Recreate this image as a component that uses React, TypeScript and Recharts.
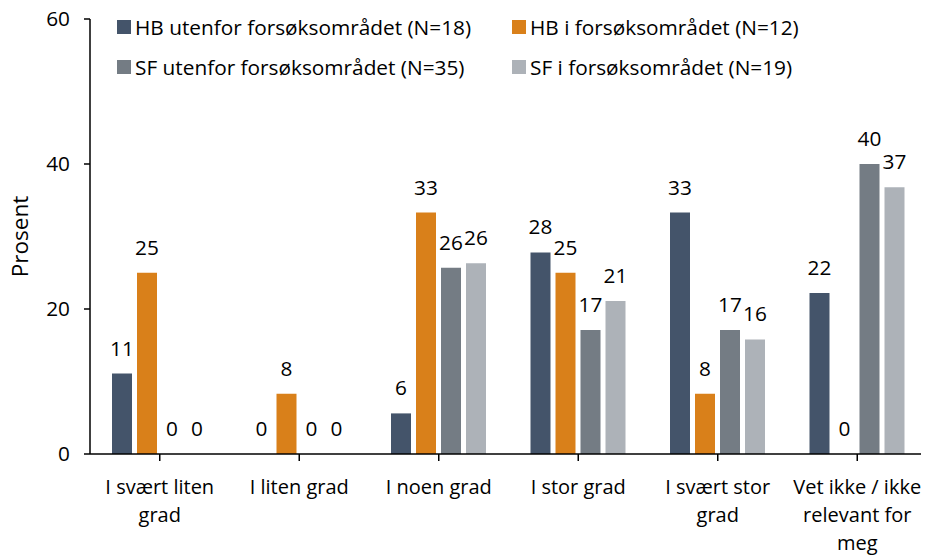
import React from 'react';
import { BarChart, Bar, XAxis, YAxis, Legend, LabelList } from 'recharts';

const categories = [
  'I svært liten\ngrad',
  'I liten grad',
  'I noen grad',
  'I stor grad',
  'I svært stor\ngrad',
  'Vet ikke / ikke\nrelevant for\nmeg',
];
const hbUtenfor = [11.1, 0, 5.6, 27.8, 33.3, 22.2];
const hbI = [25, 8.3, 33.3, 25, 8.3, 0];
const sfUtenfor = [0, 0, 25.7, 17.1, 17.1, 40];
const sfI = [0, 0, 26.3, 21.1, 15.8, 36.8];
const seriesNames = [
  'HB utenfor forsøksområdet (N=18)',
  'HB i forsøksområdet (N=12)',
  'SF utenfor forsøksområdet (N=35)',
  'SF i forsøksområdet (N=19)',
];
const seriesColors = ['#44546A', '#D9801A', '#747C84', '#ADB2B8'];
const yTicks = [0, 20, 40, 60];

const data = categories.map((c, i) => ({
  name: c,
  s0: hbUtenfor[i],
  s1: hbI[i],
  s2: sfUtenfor[i],
  s3: sfI[i],
}));

const FONT = '"Open Sans", Lato, sans-serif';
const FS = 20.8;
const TICK_FS = 20;

const CategoryTick = (props: any) => {
  const { x, y, payload } = props;
  const lines = String(payload.value).split('\n');
  return (
    <text x={x} y={y} textAnchor="middle" fill="#000" fontSize={TICK_FS} fontFamily={FONT}>
      {lines.map((l, i) => (
        <tspan key={i} x={x} dy={i === 0 ? 33 : 28}>
          {l}
        </tspan>
      ))}
    </text>
  );
};

const LegendContent = () => {
  const colLeft = [117, 512];
  const rowCenter = [26.5, 67];
  return (
    <div style={{ position: 'relative', width: 929, height: 90 }}>
      {seriesNames.map((name, i) => {
        const col = i % 2;
        const row = Math.floor(i / 2);
        return (
          <div
            key={i}
            style={{
              position: 'absolute',
              left: colLeft[col],
              top: rowCenter[row] - 13,
              height: 26,
              display: 'flex',
              alignItems: 'center',
              fontFamily: FONT,
              fontSize: FS,
              color: '#000',
              whiteSpace: 'nowrap',
            }}
          >
            <span
              style={{
                display: 'inline-block',
                width: 14,
                height: 14,
                background: seriesColors[i],
                marginRight: 4,
              }}
            />
            <span>{name}</span>
          </div>
        );
      })}
    </div>
  );
};

export default function App() {
  return (
    <div style={{ marginTop: -8, marginLeft: -8, width: 929, height: 556 }}>
      <BarChart
        width={929}
        height={556}
        data={data}
        margin={{ top: 19, right: 2, left: 8, bottom: 0 }}
        barCategoryGap={22}
        barGap={5}
      >
        <XAxis
          dataKey="name"
          interval={0}
          height={102}
          tickSize={7}
          tickMargin={0}
          stroke="#000"
          strokeWidth={1.5}
          tick={<CategoryTick />}
          tickLine={{ stroke: '#000', strokeWidth: 1.5 }}
        />
        <YAxis
          width={82}
          domain={[0, 60]}
          ticks={yTicks}
          tickSize={6}
          tickMargin={14}
          stroke="#000"
          strokeWidth={1.5}
          tick={{ fill: '#000', fontSize: FS, fontFamily: FONT }}
          label={{
            value: 'Prosent',
            angle: -90,
            position: 'insideLeft',
            offset: 12,
            style: { textAnchor: 'middle', fill: '#000', fontSize: 22.5, fontFamily: FONT },
          }}
        />
        <Legend
          layout="horizontal"
          verticalAlign="middle"
          align="center"
          wrapperStyle={{ top: 0, left: 0, width: 929, height: 90 }}
          content={<LegendContent />}
        />
        {['s0', 's1', 's2', 's3'].map((k, i) => (
          <Bar
            key={k}
            dataKey={k}
            name={seriesNames[i]}
            fill={seriesColors[i]}
            minPointSize={0.01}
            isAnimationActive={false}
          >
            <LabelList
              dataKey={k}
              position="top"
              offset={18}
              fill="#000"
              fontSize={FS}
              fontFamily={FONT}
              formatter={(v: any) => String(Math.round(Number(v)))}
            />
          </Bar>
        ))}
      </BarChart>
    </div>
  );
}
